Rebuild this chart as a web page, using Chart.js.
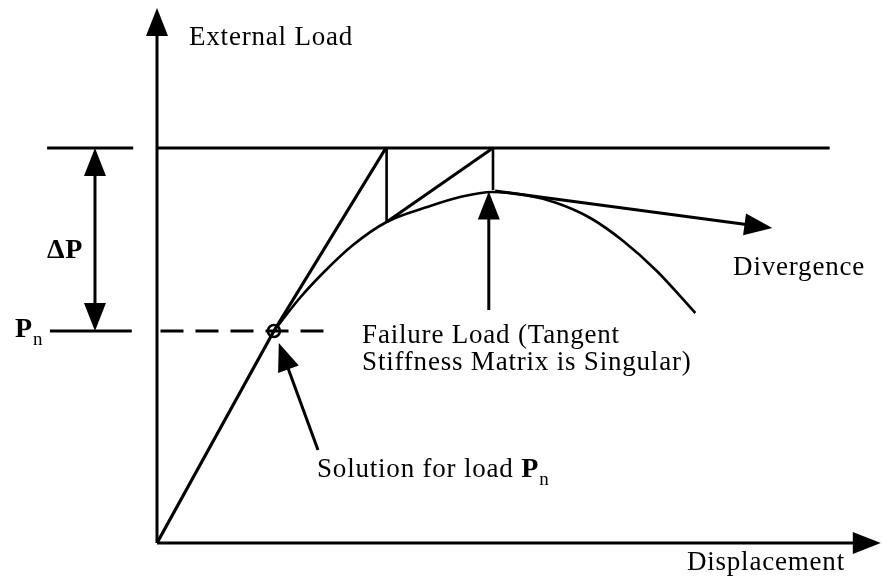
<!DOCTYPE html>
<html>
<head>
<meta charset="utf-8">
<script src="https://cdn.jsdelivr.net/npm/chart.js@4.4.1/dist/chart.umd.min.js"></script>
<style>
  html, body { margin: 0; padding: 0; background: #fff; }
  #wrap { width: 882px; height: 582px; }
</style>
</head>
<body>
<div id="wrap"><canvas id="myChart"></canvas></div>
<script>
// load levels (y) and displacement (x), units
const pTop = 98.75;
const pN = 53;

// load-displacement curve, from the solution point past the peak
const curveX = [16.7, 20.4, 24, 28, 32.8, 38.6, 43.3, 47.9, 52.6, 57.1, 61.9, 66.6, 71.4, 76.9];
const curveY = [53, 61.25, 68, 74.5, 80.25, 84, 86.5, 87.75, 87, 85, 81.25, 75.5, 68, 57.5];

// first tangent from the origin through the solution point
const tangentX = [0, 16.7, 32.7];
const tangentY = [0, pN, pTop];

// iteration steps: drop, secant, drop
const stepX = [32.8, 32.8, 48, 48];
const stepY = [pTop, 80.25, pTop, 88.25];

// solution point
const solX = [16.7];
const solY = [pN];

// arrows: [fromX, fromY, toX, toY]
const arrows = [
  [0, 0, 0, 133.75],          // load axis
  [0, 0, 103.4, 0],           // displacement axis
  [-8.86, 76, -8.86, pTop],   // delta P up
  [-8.86, 76, -8.86, pN],     // delta P down
  [47.4, 58.25, 47.4, 87.9],  // failure load
  [48.3, 88, 87.9, 78.75],    // divergence
  [23, 23.25, 17.4, 50]       // solution for load Pn
];

const serif = '"Liberation Serif", "Times New Roman", serif';

function pts(xs, ys) {
  return xs.map((x, i) => ({ x: x, y: ys[i] }));
}

function seg(x1, y1, x2, y2, width, dash) {
  return {
    type: "line",
    data: [{ x: x1, y: y1 }, { x: x2, y: y2 }],
    borderColor: "#000",
    borderWidth: width,
    borderDash: dash || [],
    pointRadius: 0,
    clip: false,
  };
}

// arrows + text drawn with the chart's own scales
const annotate = {
  id: "annotate",
  afterDatasetsDraw(chart) {
    const ctx = chart.ctx;
    const sx = chart.scales.x, sy = chart.scales.y;
    const px = v => sx.getPixelForValue(v);
    const py = v => sy.getPixelForValue(v);
    ctx.save();
    ctx.fillStyle = "#000";
    ctx.strokeStyle = "#000";

    arrows.forEach(a => {
      const x1 = px(a[0]), y1 = py(a[1]), x2 = px(a[2]), y2 = py(a[3]);
      const len = Math.hypot(x2 - x1, y2 - y1);
      const ux = (x2 - x1) / len, uy = (y2 - y1) / len;
      const hl = 28, hw = 11;
      ctx.lineWidth = 3;
      ctx.beginPath();
      ctx.moveTo(x1, y1);
      ctx.lineTo(x2 - ux * hl * 0.8, y2 - uy * hl * 0.8);
      ctx.stroke();
      const bx = x2 - ux * hl, by = y2 - uy * hl;
      ctx.beginPath();
      ctx.moveTo(x2, y2);
      ctx.lineTo(bx - uy * hw, by + ux * hw);
      ctx.lineTo(bx + uy * hw, by - ux * hw);
      ctx.closePath();
      ctx.fill();
    });

    ctx.textBaseline = "alphabetic";
    ctx.textAlign = "left";
    function txt(s, x, y, font, spacing) {
      ctx.font = font;
      ctx.letterSpacing = (spacing === undefined ? 0.8 : spacing) + "px";
      ctx.fillText(s, x, y);
      return x + ctx.measureText(s).width;
    }
    const reg = "27px " + serif;
    const bold = "bold 28px " + serif;
    const sub = "19px " + serif;

    txt("External Load", px(4.57), py(124.5), reg);
    txt("\u0394P", px(-15.7), py(71.25), bold, 0.5);
    let e = txt("P", px(-20.3), py(51.5), bold, 0);
    txt("n", e + 1, py(49.5), sub, 0);
    txt("Failure Load (Tangent", px(29.3), py(50), reg);
    txt("Stiffness Matrix is Singular)", px(29.3), py(43.25), reg);
    e = txt("Solution for load ", px(22.86), py(16.5), reg);
    e = txt("P", e, py(16.5), bold, 0);
    txt("n", e + 1, py(14.5), sub, 0);
    txt("Divergence", px(82.3), py(67), reg);
    txt("Displacement", px(75.7), py(-6.75), reg);
    ctx.restore();
  }
};

const config = {
  type: "line",
  data: {
    datasets: [
      seg(0, pTop, 96.1, pTop, 3),
      seg(-15.7, pTop, -3.4, pTop, 3),
      seg(-15.3, pN, -3.6, pN, 3),
      seg(0.5, pN, 24, pN, 3, [23, 12]),
      {
        type: "line",
        data: pts(tangentX, tangentY),
        borderColor: "#000",
        borderWidth: 3.2,
        pointRadius: 0,
        clip: false,
      },
      {
        type: "line",
        data: pts(stepX.slice(0, 2), stepY.slice(0, 2)),
        borderColor: "#000",
        borderWidth: 2.6,
        pointRadius: 0,
        clip: false,
      },
      seg(stepX[1], stepY[1], stepX[2], stepY[2], 3),
      {
        type: "line",
        data: pts(stepX.slice(2), stepY.slice(2)),
        borderColor: "#000",
        borderWidth: 2.6,
        pointRadius: 0,
        clip: false,
      },
      {
        type: "line",
        data: pts(curveX, curveY),
        borderColor: "#000",
        borderWidth: 2.6,
        pointRadius: 0,
        cubicInterpolationMode: "monotone",
        clip: false,
      },
      {
        type: "scatter",
        data: pts(solX, solY),
        backgroundColor: "#fff",
        borderColor: "#000",
        borderWidth: 2.5,
        pointRadius: 6,
        clip: false,
      },
    ],
  },
  options: {
    responsive: true,
    maintainAspectRatio: false,
    animation: false,
    events: [],
    layout: { padding: { left: 157, right: 25, top: 23, bottom: 39 } },
    plugins: { legend: { display: false }, tooltip: { enabled: false } },
    scales: {
      x: { type: "linear", min: 0, max: 100, display: false },
      y: { type: "linear", min: 0, max: 130, display: false },
    },
  },
  plugins: [annotate],
};

var myChart = new Chart(document.getElementById("myChart"), config);
</script>
</body>
</html>
